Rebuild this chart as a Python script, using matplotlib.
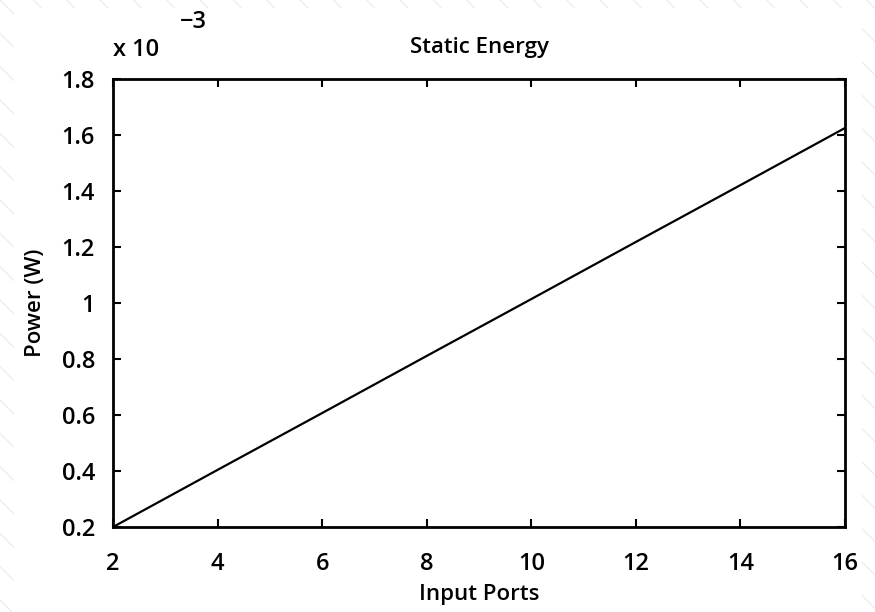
import matplotlib.pyplot as plt
from matplotlib.patches import Rectangle
from matplotlib.ticker import FuncFormatter, MultipleLocator

# Data
ports = [2, 4, 6, 8, 10, 12, 14, 16]
power = [0.200e-3, 0.404e-3, 0.607e-3, 0.811e-3, 1.014e-3, 1.218e-3, 1.421e-3, 1.625e-3]

plt.rcParams['font.family'] = ['Open Sans', 'DejaVu Sans']
plt.rcParams['font.weight'] = 'semibold'
plt.rcParams['axes.labelweight'] = 'semibold'
plt.rcParams['axes.titleweight'] = 'semibold'
plt.rcParams['hatch.linewidth'] = 0.8

fig = plt.figure(figsize=(8.75, 6.12), dpi=100)

# hatched page background with white plot card
fig.patches.append(Rectangle((0, 0), 1, 1, transform=fig.transFigure,
                             facecolor='white', edgecolor='#ebebeb',
                             hatch='\\', linewidth=0, zorder=-10))
fig.patches.append(Rectangle((14 / 875, 0), 848 / 875, 604 / 612,
                             transform=fig.transFigure, facecolor='white',
                             edgecolor='none', zorder=-9))

ax = fig.add_axes([113 / 875, 85 / 612, 732 / 875, 448 / 612])
ax.plot(ports, power, color='black', linewidth=1.6)

ax.set_xlim(2, 16)
ax.set_ylim(0.2e-3, 1.8e-3)
ax.xaxis.set_major_locator(MultipleLocator(2))
ax.yaxis.set_major_locator(MultipleLocator(0.2e-3))
ax.yaxis.set_major_formatter(FuncFormatter(lambda v, p: f"{v * 1e3:g}"))

ax.tick_params(direction='in', length=6, width=1.5, top=True, right=True,
               labelsize=17)
ax.tick_params(axis='x', pad=18)
ax.tick_params(axis='y', pad=13)
for s in ax.spines.values():
    s.set_linewidth(2)

ax.set_xlabel('Input Ports', fontsize=16, labelpad=6)
ax.set_ylabel('Power (W)', fontsize=16, labelpad=11)
ax.set_title('Static Energy', fontsize=16, pad=19)

fig.text(113 / 875, 1 - 50 / 612, 'x 10', fontsize=17, va='center', ha='left')
fig.text(180 / 875, 1 - 22 / 612, '\u22123', fontsize=17, va='center', ha='left')

plt.savefig('out.png', dpi=100)
